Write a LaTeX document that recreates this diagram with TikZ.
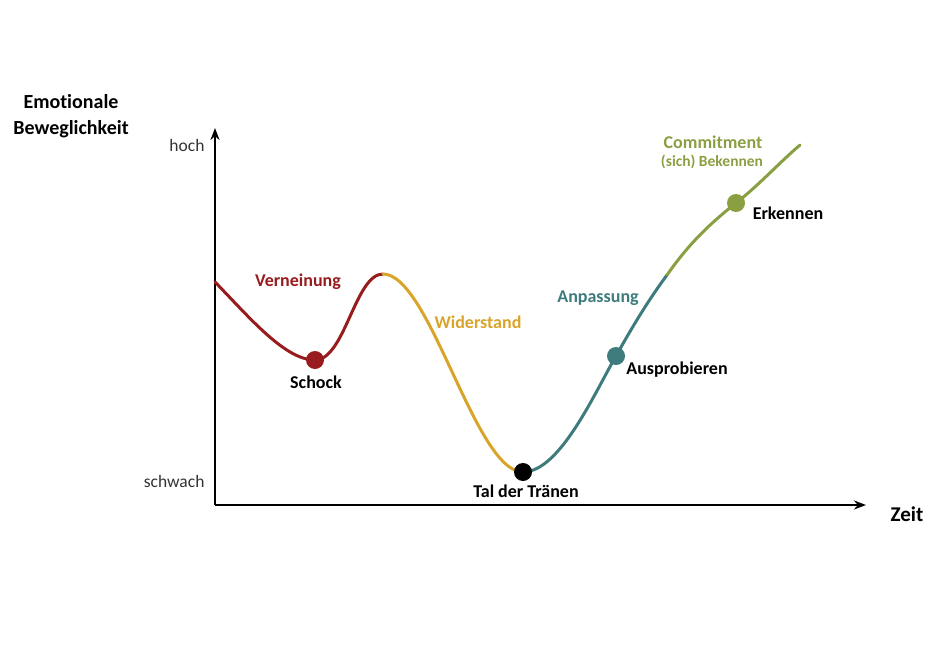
\documentclass[tikz,border=0pt]{standalone}
\usepackage{fontspec}
\setmainfont{Carlito}[Ligatures=NoCommon]
\usetikzlibrary{arrows.meta}
\definecolor{vernrot}{HTML}{981B1E}
\definecolor{widgelb}{HTML}{D9A42A}
\definecolor{anptuerkis}{HTML}{3D7B7C}
\definecolor{comgruen}{HTML}{8A9F42}
\definecolor{textgrau}{HTML}{333333}
\tikzset{
  phase/.style={line width=3pt,line cap=round},
  punkt/.style={circle,inner sep=0pt,minimum size=18pt},
  etikett/.style={font=\bfseries\fontsize{18}{21}\selectfont},
  stufe/.style={font=\fontsize{17.5}{20}\selectfont,text=textgrau},
  achse/.style={line width=2.8pt,-{Stealth[length=12pt,width=9pt]}}
}
\begin{document}
\begin{tikzpicture}[x=1pt,y=1pt]
        \useasboundingbox (0,0) rectangle (940,-653);
        %% axes
        \coordinate (ursprung) at (215,-505);
        \coordinate (yspitze) at (215,-128);
        \coordinate (xspitze) at (866,-505);
        \draw[achse] (ursprung) -- (yspitze);
        \draw[achse] (ursprung) -- (xspitze);
        \node[etikett,font=\bfseries\fontsize{20}{26}\selectfont,align=center] (ytitel) at (71,-116) {Emotionale\\Beweglichkeit};
        \node[etikett,font=\bfseries\fontsize{21}{24}\selectfont] (xtitel) at (907,-514) {Zeit};
        \node[stufe,anchor=east] (hoch) at (208,-145) {hoch};
        \node[stufe,anchor=east] (schwach) at (208,-481) {schwach};
        %% points on the curve
        \coordinate (start) at (215,-282);
        \coordinate (schock) at (315,-360);
        \coordinate (gipfel) at (383,-274);
        \coordinate (tal) at (523,-472);
        \coordinate (probe) at (616,-356);
        \coordinate (wechsel) at (667,-275);
        \coordinate (erkennen) at (736,-203);
        \coordinate (ende) at (800,-145);
        %% curve, one colour per phase
        \draw[phase,vernrot] (start) .. controls (250,-318) and (285,-360) .. (schock)
              .. controls (345,-360) and (355,-274) .. (gipfel);
        \draw[phase,widgelb] (gipfel) .. controls (430,-274) and (475,-472) .. (tal);
        \draw[phase,anptuerkis] (tal) .. controls (560,-472) and (595,-392) .. (probe)
              .. controls (635,-322) and (650,-298) .. (wechsel);
        \draw[phase,comgruen] (wechsel) .. controls (690,-242) and (712,-222) .. (erkennen)
              .. controls (758,-186) and (780,-162) .. (ende);
        %% dots
        \node[punkt,fill=vernrot] (schockpunkt) at (schock) {};
        \node[punkt,fill=black] (talpunkt) at (tal) {};
        \node[punkt,fill=anptuerkis] (probepunkt) at (probe) {};
        \node[punkt,fill=comgruen] (erkennpunkt) at (erkennen) {};
        %% labels
        \node[etikett,text=vernrot] (verneinung) at (298,-282) {Verneinung};
        \node[etikett] (schocktext) at (316,-382) {Schock};
        \node[etikett,text=widgelb] (widerstand) at (478,-322) {Widerstand};
        \node[etikett] (taltext) at (526,-491) {Tal der Tränen};
        \node[etikett,text=anptuerkis] (anpassung) at (598,-298) {Anpassung};
        \node[etikett] (probetext) at (677,-370) {Ausprobieren};
        \node[etikett,text=comgruen] (commitment) at (713,-142) {Commitment};
        \node[etikett,font=\bfseries\fontsize{15.5}{18}\selectfont,text=comgruen] (bekennen) at (712,-162) {(sich) Bekennen};
        \node[etikett] (erkenntext) at (788,-213) {Erkennen};
\end{tikzpicture}
\end{document}
